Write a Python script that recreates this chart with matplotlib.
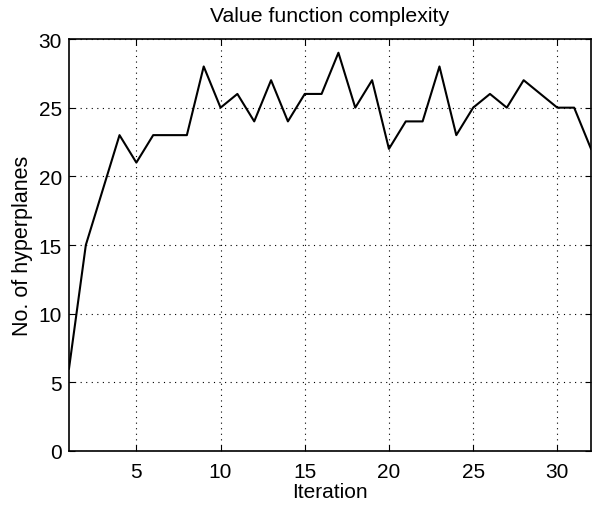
import matplotlib
matplotlib.use("Agg")
import matplotlib.pyplot as plt

iterations = list(range(1, 33))
hyperplanes = [6, 15, 19, 23, 21, 23, 23, 23, 28, 25, 26, 24, 27, 24, 26, 26,
               29, 25, 27, 22, 24, 24, 28, 23, 25, 26, 25, 27, 26, 25, 25, 22]
x_ticks = [5, 10, 15, 20, 25, 30]
y_ticks = [0, 5, 10, 15, 20, 25, 30]

plt.rcParams['font.family'] = ['Liberation Sans', 'DejaVu Sans']

fig = plt.figure(figsize=(6.01, 5.06), dpi=100)
ax = fig.add_axes([69 / 601, 54 / 506, 522 / 601, 412 / 506])

ax.plot(iterations, hyperplanes, color='black', linewidth=1.5)

ax.set_xlim(1, 32)
ax.set_ylim(0, 30)
ax.set_xticks(x_ticks)
ax.set_yticks(y_ticks)
ax.tick_params(direction='in', top=True, right=True, labelsize=15, length=4)
ax.tick_params(axis='x', pad=8)
ax.tick_params(axis='y', pad=5)
ax.grid(True, linestyle=(0, (1, 4)), color='black', linewidth=0.8)
for s in ax.spines.values():
    s.set_linewidth(1.2)

ax.set_title("Value function complexity", fontsize=15.3, pad=13)
ax.set_xlabel("Iteration", fontsize=15, labelpad=1)
ax.set_ylabel("No. of hyperplanes", fontsize=15.5, labelpad=4)

fig.savefig("out.png", dpi=100)
